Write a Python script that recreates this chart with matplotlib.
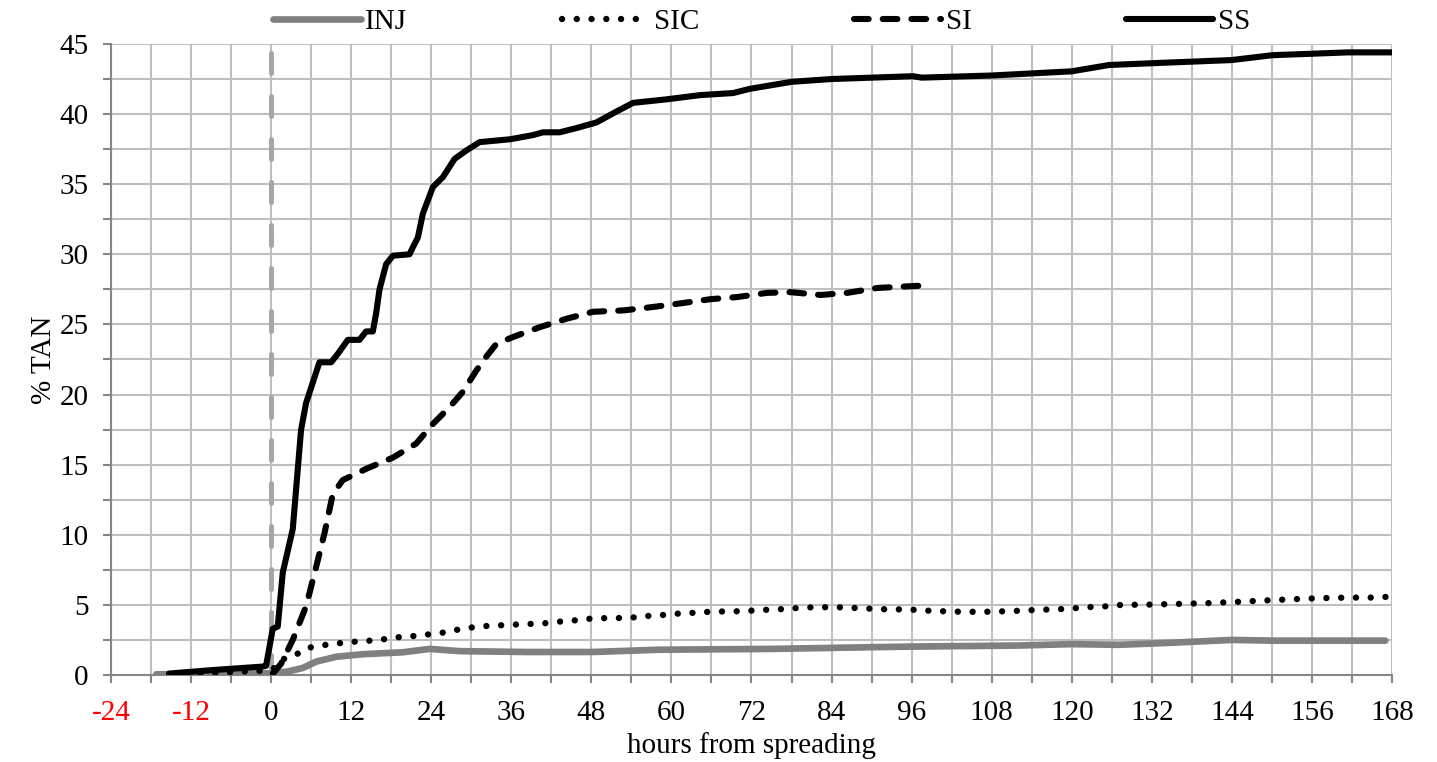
import numpy as np
import matplotlib
matplotlib.use("Agg")
import matplotlib.pyplot as plt
from matplotlib.ticker import MultipleLocator

plt.rcParams['font.family'] = ['Liberation Serif', 'DejaVu Serif']
plt.rcParams['axes.unicode_minus'] = False

############# data ######################################
# hours from spreading / % TAN for each treatment
ss_h = [-15.3, -8.75, -1.25, -0.75, 0.25, 1.0, 1.75, 3.25, 4.5, 5.25, 7.25, 9.0, 10.0,
        11.5, 13.25, 14.25, 15.25, 15.75, 16.25, 17.25, 18.25, 20.75, 21.25, 22.0, 22.75,
        24.25, 25.75, 27.5, 29.25, 31.25, 35.75, 39.25, 40.75, 43.25, 45.75, 48.75, 51.25,
        54.25, 59.25, 64.25, 69.25, 71.75, 78, 84, 96.2, 97.5, 108, 120, 125.6, 133.2,
        143.9, 150.1, 161.4, 168]
ss_v = [0.1, 0.35, 0.6, 0.65, 3.3, 3.45, 7.3, 10.4, 17.5, 19.4, 22.3, 22.3, 22.9,
        23.9, 23.9, 24.5, 24.5, 25.8, 27.5, 29.3, 29.9, 30.0, 30.5, 31.2, 32.9,
        34.8, 35.5, 36.8, 37.4, 38.0, 38.2, 38.5, 38.7, 38.7, 39.0, 39.4, 40.05,
        40.8, 41.05, 41.35, 41.5, 41.8, 42.3, 42.5, 42.7, 42.6, 42.75, 43.05, 43.5, 43.65,
        43.85, 44.2, 44.4, 44.4]

si_h = [0.25, 1.5, 3.25, 5.25, 6.75, 7.25, 8.0, 9.25, 10.75, 14.25, 18.25, 21.75, 24.25,
        26.75, 28.75, 30.75, 32.25, 33.75, 36.25, 40.25, 44.25, 48.25, 52.85, 57.35, 61.35,
        65.85, 69.85, 74.35, 77.85, 82.35, 86.35, 90.85, 96.85, 97.5]
si_v = [0.1, 0.8, 2.5, 4.9, 7.7, 8.65, 10.1, 12.9, 13.9, 14.7, 15.5, 16.5, 17.9,
        19.1, 20.2, 21.7, 22.7, 23.6, 24.1, 24.8, 25.4, 25.9, 26.0, 26.25, 26.5,
        26.8, 26.95, 27.25, 27.3, 27.1, 27.25, 27.6, 27.75, 27.75]

sic_h = [-15, -8, -4, -1, 0.5, 1.25, 3.25, 5.25, 7.25, 9.25, 11.5, 13.5, 15.75, 17.75,
         19.75, 22, 24.15, 26.25, 28.25, 30.25, 32.5, 34.65, 36.75, 38.85, 41, 43.1, 45.25,
         47.35, 49.5, 53.75, 55.85, 58.1, 60.2, 62.35, 64.45, 66.6, 70.85, 72.95, 75.1,
         77.2, 79.25, 81.45, 85, 87.1, 89.25, 91.35, 95.65, 97.75, 102, 106.35, 110.6,
         114.75, 119, 121.15, 123.25, 125.35, 127.5, 131.75, 136, 140.25, 144.5, 148.75,
         153, 157.25, 161.55, 165.75, 168]
sic_v = [0.05, 0.15, 0.25, 0.3, 0.5, 1.07, 1.3, 1.9, 2.1, 2.2, 2.35, 2.4, 2.48, 2.6,
         2.74, 2.79, 2.93, 3.05, 3.26, 3.4, 3.5, 3.55, 3.6, 3.64, 3.69, 3.8, 3.88,
         4.0, 4.05, 4.07, 4.2, 4.24, 4.36, 4.4, 4.48, 4.52, 4.55, 4.62, 4.67,
         4.71, 4.79, 4.83, 4.83, 4.79, 4.74, 4.69, 4.67, 4.6, 4.52, 4.5, 4.55,
         4.64, 4.71, 4.79, 4.86, 4.9, 5.0, 5.02, 5.07, 5.12, 5.21, 5.31,
         5.4, 5.48, 5.52, 5.52, 5.6]

inj_h = [-17.2, -10, -4, 0.25, 2.5, 4.75, 6.75, 9.75, 13.75, 19.75, 23.75, 28.25, 38.25,
         48.25, 55, 58, 75, 95, 112, 120, 127, 135, 144, 150, 167]
inj_v = [0.05, 0.07, 0.1, 0.12, 0.25, 0.5, 0.95, 1.3, 1.48, 1.62, 1.86, 1.7, 1.64,
         1.64, 1.75, 1.8, 1.86, 2.02, 2.1, 2.2, 2.15, 2.3, 2.5, 2.45, 2.45]

labels = ['INJ', 'SIC', 'SI', 'SS']

############# plot ##################
fig = plt.figure(figsize=(14.37, 7.62), dpi=100)
ax = fig.add_axes([0.0772, 0.1142, 0.8915, 0.8281])

# spreading time marker
ax.axvline(0, color='#a6a6a6', lw=3.6, linestyle=(0, (4, 4.6)), dash_capstyle='round', zorder=2)

ax.plot(inj_h, inj_v, color='#808080', lw=4.8, solid_capstyle='round', label=labels[0], zorder=3)
ax.plot(sic_h, sic_v, color='black', lw=4.6, linestyle=(0, (0.01, 2.3)),
        dash_capstyle='round', label=labels[1], zorder=4)
ax.plot(si_h, si_v, color='black', lw=4.4, linestyle=(0, (2.4, 2.3)),
        dash_capstyle='round', label=labels[2], zorder=4)
ax.plot(ss_h, ss_v, color='black', lw=4.4, solid_capstyle='round', label=labels[3], zorder=5)

ax.set_xlim(-24, 168)
ax.set_ylim(0, 45)
ax.xaxis.set_major_locator(MultipleLocator(12))
ax.xaxis.set_minor_locator(MultipleLocator(6))
ax.yaxis.set_major_locator(MultipleLocator(5))
ax.yaxis.set_minor_locator(MultipleLocator(2.5))
ax.grid(which='both', color='#bfbfbf', lw=1.5, zorder=0)
ax.set_axisbelow(True)

for s in ['top', 'right']:
    ax.spines[s].set_visible(False)
for s in ['left', 'bottom']:
    ax.spines[s].set_color('#868686')
    ax.spines[s].set_linewidth(1.5)

ax.tick_params(which='both', direction='out', length=6, width=1.5, color='#868686',
               labelsize=21)
ax.tick_params(axis='x', pad=12)
ax.tick_params(axis='y', pad=10)

for t, val in zip(ax.get_xticklabels(), ax.get_xticks()):
    if val < 0:
        t.set_color('red')

ax.set_xlabel('hours from spreading', fontsize=21, labelpad=4)
ax.set_ylabel('% TAN', fontsize=21, labelpad=2)

ax.legend(loc='center', bbox_to_anchor=(0.508, 1.035), ncol=4, frameon=False,
          fontsize=21, handlelength=3.0, handletextpad=0.15, columnspacing=5.3,
          borderaxespad=0)

plt.savefig('out.png', dpi=100)
